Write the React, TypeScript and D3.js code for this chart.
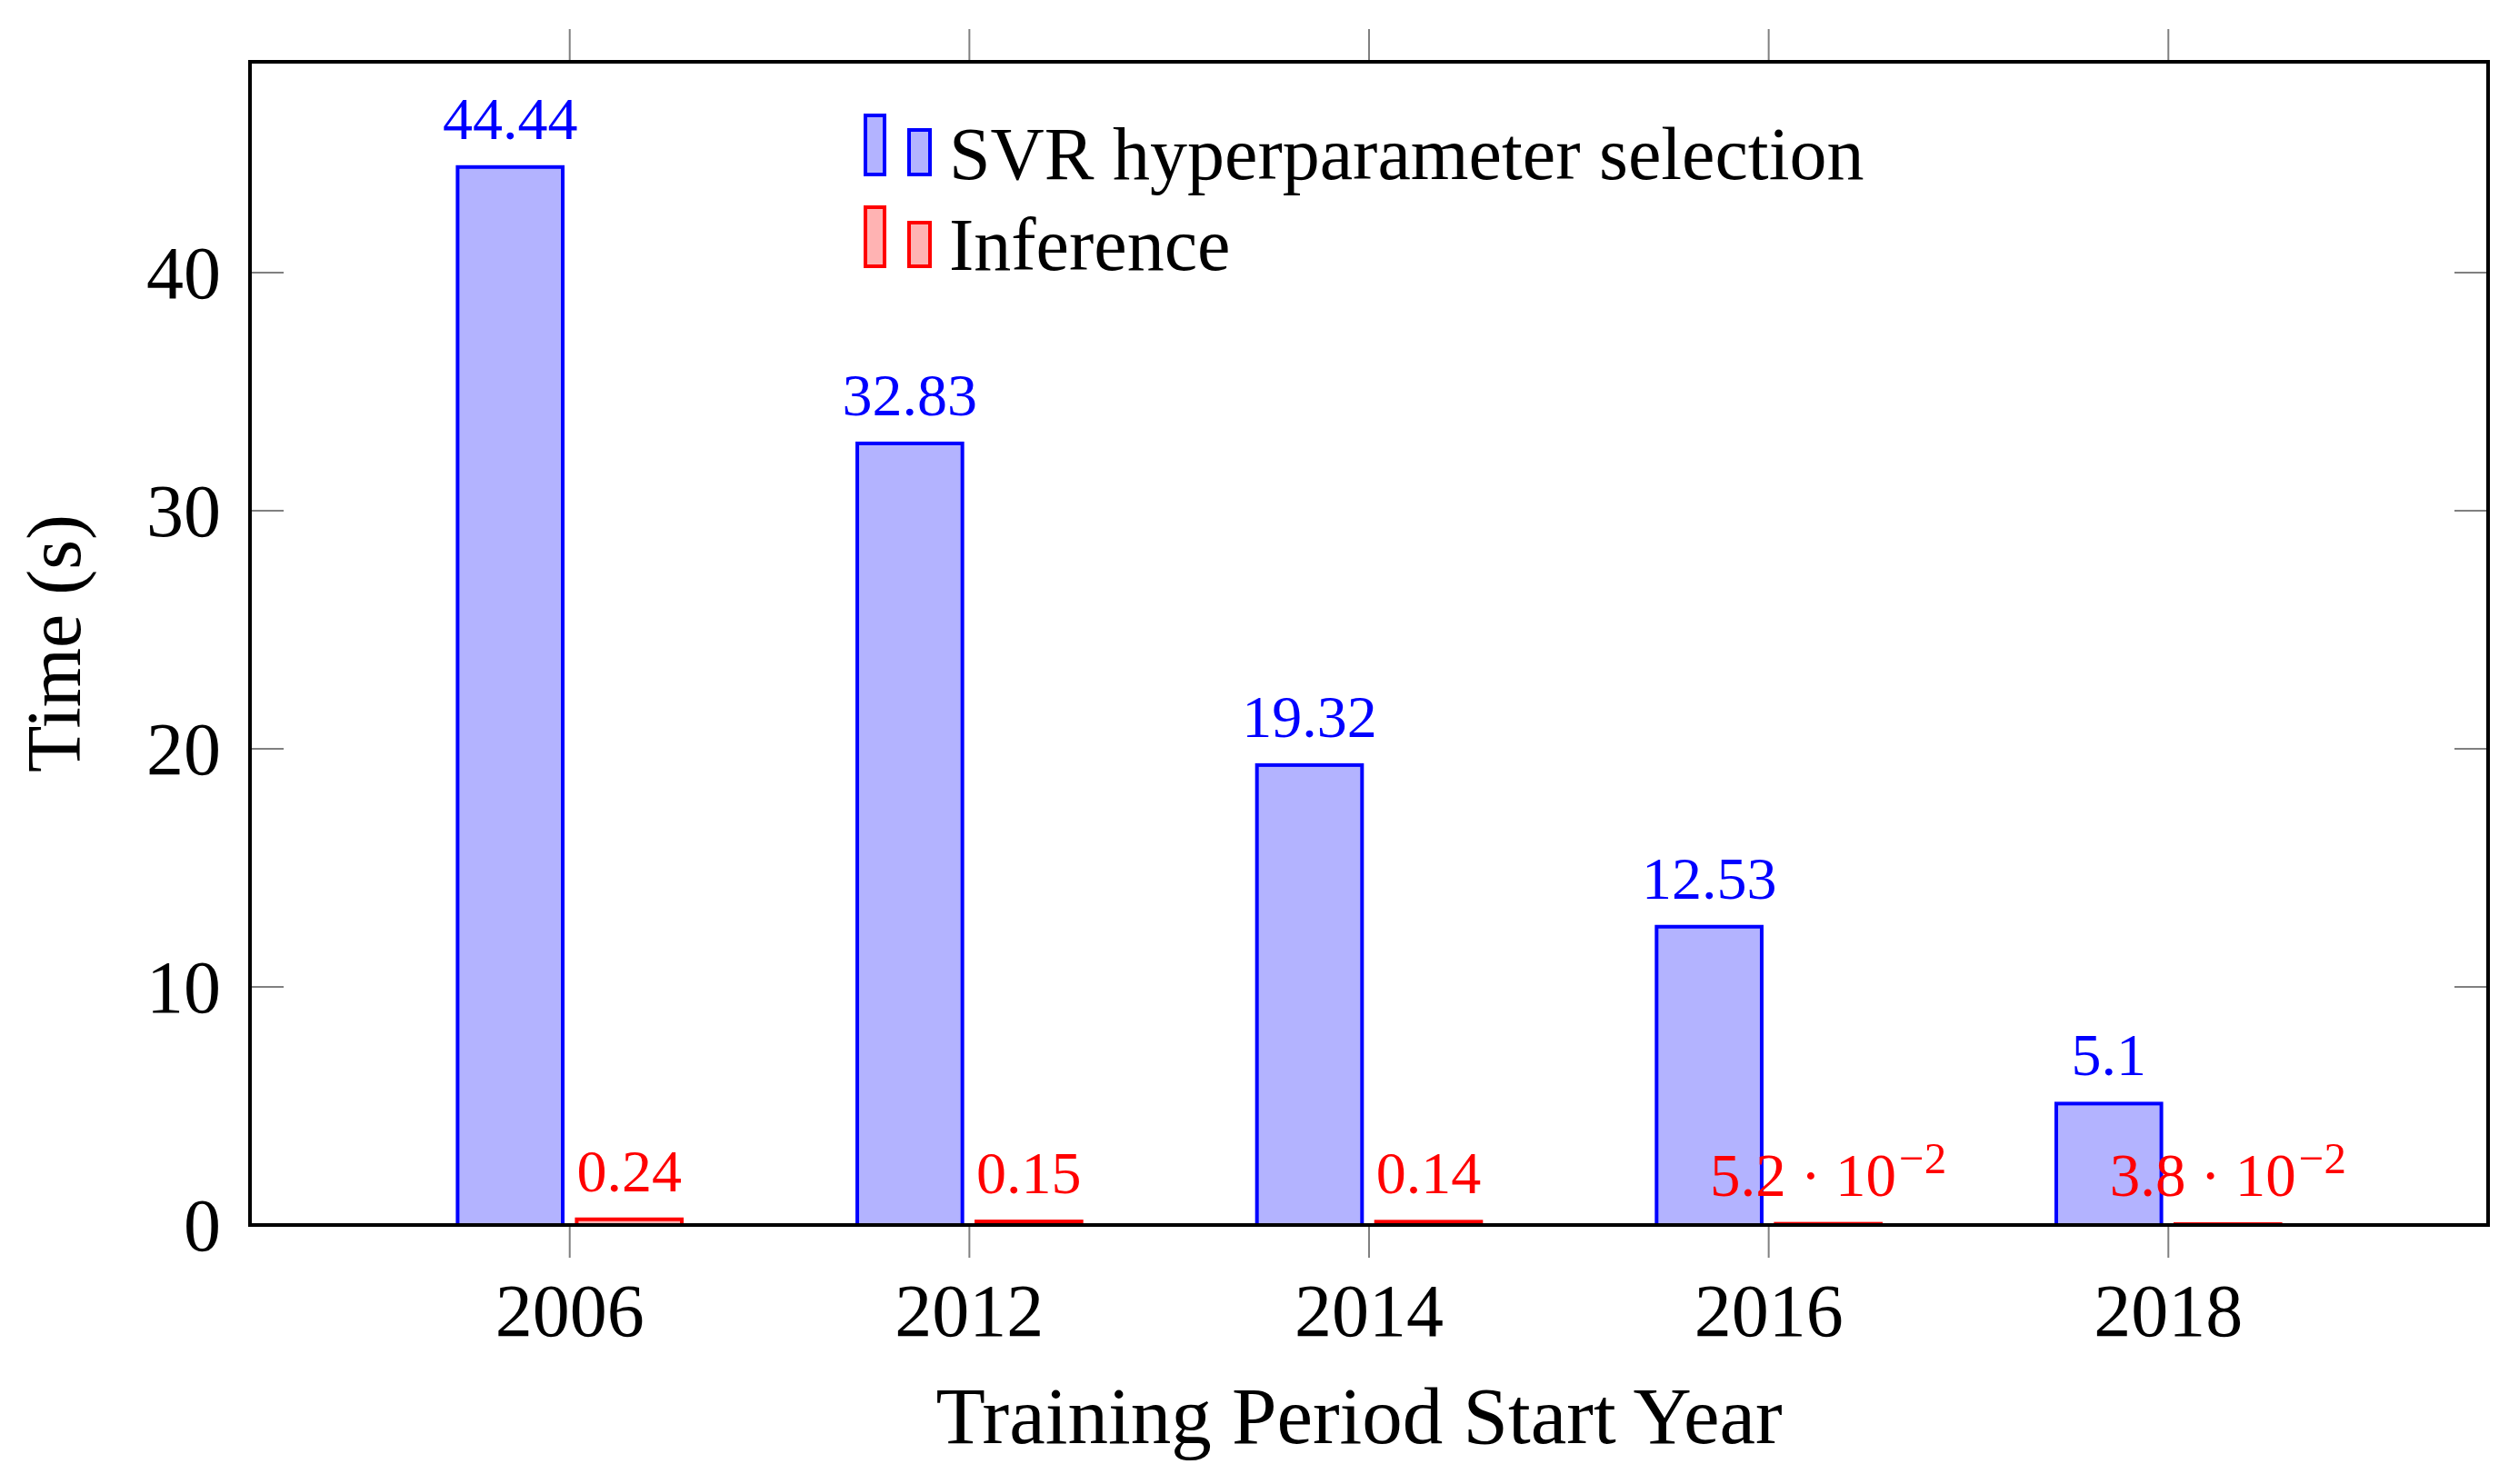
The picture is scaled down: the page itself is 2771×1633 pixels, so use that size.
import React, { useEffect } from "react";
import * as d3 from "d3";

const years = ["2006", "2012", "2014", "2016", "2018"];
const svrValues = [44.44, 32.83, 19.32, 12.53, 5.1];
const inferenceValues = [0.24, 0.15, 0.14, 0.052, 0.038];
const yTicks = [0, 10, 20, 30, 40];
const seriesNames = ["SVR hyperparameter selection", "Inference"];

const W = 2771;
const H = 1633;
const FONT = "'Liberation Serif', 'DejaVu Serif', serif";

const BLUE = "#0000ff";
const BLUE_FILL = "#b3b3ff";
const RED = "#ff0000";
const RED_FILL = "#ffb3b3";

function fmt(v: number): { mant: string; exp: string | null } {
  if (v < 0.1) {
    const e = Math.floor(Math.log10(v));
    const m = v / Math.pow(10, e);
    return { mant: String(+m.toFixed(1)), exp: String(e) };
  }
  return { mant: String(+v.toFixed(2)), exp: null };
}

function ValueLabel({ x, y, v, color }: { x: number; y: number; v: number; color: string }) {
  const f = fmt(v);
  if (!f.exp) {
    return (
      <text x={x} y={y} textAnchor="middle" fill={color} fontSize={66} fontFamily={FONT}>
        {f.mant}
      </text>
    );
  }
  return (
    <text x={x} y={y} textAnchor="middle" fill={color} fontSize={67} fontFamily={FONT}>
      <tspan>{f.mant}</tspan>
      <tspan dx={16}>·</tspan>
      <tspan dx={16}>10</tspan>
      <tspan dx={3} dy={-25} fontSize={49}>{"\u2212" + String(-Number(f.exp))}</tspan>
    </text>
  );
}

export default function App() {
  useEffect(() => {
    document.body.style.margin = "0";
  }, []);

  const left = 275;
  const right = 2737;
  const top = 68;
  const bottom = 1348;

  const x = d3.scaleLinear().domain([-0.8, years.length - 1 + 0.8]).range([left, right]);
  const y = d3.scaleLinear().domain([0, 48.86]).range([bottom, top]);
  const unit = x(1) - x(0);
  const barW = 0.263 * unit;
  const shift = 0.149 * unit;

  return (
    <svg width={W} height={H} viewBox={`0 0 ${W} ${H}`} style={{ display: "block", background: "#fff" }}>
      {/* bars */}
      {years.map((yr, i) => {
        const cxB = x(i) - shift;
        const cxR = x(i) + shift;
        return (
          <g key={yr}>
            <rect
              x={cxB - barW / 2}
              y={y(svrValues[i])}
              width={barW}
              height={y(0) - y(svrValues[i])}
              fill={BLUE_FILL}
              stroke={BLUE}
              strokeWidth={4}
            />
            <rect
              x={cxR - barW / 2}
              y={y(inferenceValues[i])}
              width={barW}
              height={y(0) - y(inferenceValues[i])}
              fill={RED_FILL}
              stroke={RED}
              strokeWidth={4}
            />
          </g>
        );
      })}

      {/* y ticks (inside, both sides) */}
      {yTicks.map((t) => (
        <g key={t}>
          <line x1={left} x2={left + 37} y1={y(t)} y2={y(t)} stroke="#808080" strokeWidth={2} />
          <line x1={right} x2={right - 37} y1={y(t)} y2={y(t)} stroke="#808080" strokeWidth={2} />
          <text x={243} y={y(t) + 28} textAnchor="end" fontSize={82} fontFamily={FONT} fill="#000">
            {t}
          </text>
        </g>
      ))}

      {/* x ticks (outside, top and bottom) */}
      {years.map((yr, i) => (
        <g key={yr}>
          <line x1={x(i)} x2={x(i)} y1={bottom} y2={bottom + 36} stroke="#808080" strokeWidth={2} />
          <line x1={x(i)} x2={x(i)} y1={top} y2={top - 36} stroke="#808080" strokeWidth={2} />
          <text x={x(i)} y={1470} textAnchor="middle" fontSize={82} fontFamily={FONT} fill="#000">
            {yr}
          </text>
        </g>
      ))}

      {/* frame */}
      <rect x={left} y={top} width={right - left} height={bottom - top} fill="none" stroke="#000" strokeWidth={4} />

      {/* value labels */}
      {years.map((yr, i) => (
        <g key={"l" + yr}>
          <ValueLabel x={x(i) - shift} y={y(svrValues[i]) - 31} v={svrValues[i]} color={BLUE} />
          <ValueLabel x={x(i) + shift} y={y(inferenceValues[i]) - 31} v={inferenceValues[i]} color={RED} />
        </g>
      ))}

      {/* legend */}
      <g>
        <rect x={952} y={127} width={21} height={65} fill={BLUE_FILL} stroke={BLUE} strokeWidth={4} />
        <rect x={1000} y={143} width={23} height={49} fill={BLUE_FILL} stroke={BLUE} strokeWidth={4} />
        <text x={1044} y={197} fontSize={82} fontFamily={FONT} fill="#000">
          {seriesNames[0]}
        </text>
        <rect x={952} y={228} width={21} height={65} fill={RED_FILL} stroke={RED} strokeWidth={4} />
        <rect x={1000} y={245} width={23} height={48} fill={RED_FILL} stroke={RED} strokeWidth={4} />
        <text x={1044} y={297} fontSize={82} fontFamily={FONT} fill="#000">
          {seriesNames[1]}
        </text>
      </g>

      {/* axis titles */}
      <text x={1495} y={1588} textAnchor="middle" fontSize={89} fontFamily={FONT} fill="#000">
        Training Period Start Year
      </text>
      <text
        transform={`translate(88, ${(top + bottom) / 2}) rotate(-90)`}
        textAnchor="middle"
        fontSize={84}
        fontFamily={FONT}
        fill="#000"
      >
        Time (s)
      </text>
    </svg>
  );
}
